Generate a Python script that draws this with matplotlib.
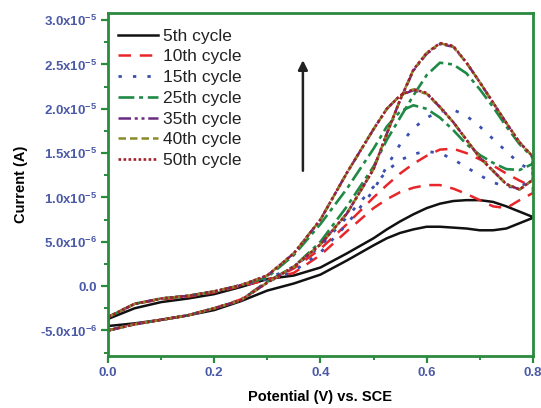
import matplotlib
matplotlib.use("Agg")
import matplotlib.pyplot as plt
from matplotlib.ticker import FixedLocator, FuncFormatter, MultipleLocator
import math

plt.rcParams['font.family'] = ['Liberation Sans', 'DejaVu Sans']
plt.rcParams['mathtext.fontset'] = 'custom'
plt.rcParams['mathtext.rm'] = 'Liberation Sans:bold'
plt.rcParams['mathtext.bf'] = 'Liberation Sans:bold'
plt.rcParams['mathtext.default'] = 'bf'

# Potential grid (V)
potential = [0, 0.05, 0.1, 0.15, 0.2, 0.25, 0.3, 0.35, 0.4, 0.45, 0.5, 0.525, 0.55,
             0.575, 0.6, 0.625, 0.65, 0.675, 0.7, 0.725, 0.75, 0.775, 0.8]

# Currents in units of 1e-5 A; branch "b" = higher-peak branch, branch "a" = other branch
c5_b = [-0.37, -0.25, -0.18, -0.14, -0.09, -0.01, 0.08, 0.12, 0.21, 0.37, 0.54, 0.64, 0.73,
        0.81, 0.88, 0.93, 0.96, 0.97, 0.97, 0.95, 0.90, 0.84, 0.78]
c5_a = [-0.45, -0.42, -0.38, -0.33, -0.27, -0.17, -0.05, 0.03, 0.13, 0.29, 0.46, 0.54, 0.60,
        0.64, 0.67, 0.67, 0.66, 0.65, 0.63, 0.63, 0.65, 0.71, 0.77]

c10_b = [-0.50, -0.43, -0.38, -0.33, -0.25, -0.15, 0.05, 0.20, 0.42, 0.70, 1.00, 1.14, 1.27,
         1.38, 1.47, 1.54, 1.55, 1.50, 1.43, 1.36, 1.27, 1.19, 1.12]
c10_a = [-0.35, -0.20, -0.15, -0.12, -0.07, 0.00, 0.07, 0.15, 0.35, 0.62, 0.88, 0.98, 1.06,
         1.11, 1.14, 1.14, 1.10, 1.04, 0.97, 0.90, 0.88, 0.97, 1.05]

c15_b = [-0.50, -0.43, -0.38, -0.33, -0.25, -0.16, 0.05, 0.17, 0.38, 0.70, 1.08, 1.35, 1.60,
         1.78, 1.90, 1.97, 1.99, 1.92, 1.80, 1.66, 1.52, 1.38, 1.30]
c15_a = [-0.35, -0.20, -0.14, -0.11, -0.06, 0.01, 0.08, 0.22, 0.45, 0.78, 1.12, 1.30, 1.42,
         1.49, 1.52, 1.50, 1.43, 1.34, 1.25, 1.17, 1.12, 1.12, 1.20]

c25_b = [-0.50, -0.43, -0.38, -0.33, -0.25, -0.16, 0.05, 0.22, 0.50, 0.90, 1.35, 1.65, 1.90,
         2.15, 2.38, 2.52, 2.50, 2.40, 2.22, 2.02, 1.80, 1.60, 1.45]
c25_a = [-0.35, -0.20, -0.14, -0.11, -0.06, 0.01, 0.10, 0.35, 0.70, 1.10, 1.55, 1.80, 1.97,
         2.04, 2.00, 1.90, 1.76, 1.60, 1.48, 1.39, 1.32, 1.31, 1.38]

c35_b = [-0.50, -0.43, -0.38, -0.33, -0.25, -0.16, 0.04, 0.22, 0.47, 0.82, 1.32, 1.72, 2.10,
         2.43, 2.62, 2.73, 2.70, 2.52, 2.30, 2.07, 1.84, 1.62, 1.46]
c35_a = [-0.35, -0.20, -0.14, -0.11, -0.06, 0.01, 0.12, 0.37, 0.75, 1.28, 1.77, 2.00, 2.15,
         2.21, 2.17, 2.02, 1.85, 1.65, 1.45, 1.30, 1.15, 1.09, 1.20]

c40_b = [-0.50, -0.43, -0.38, -0.33, -0.25, -0.16, 0.04, 0.22, 0.47, 0.82, 1.32, 1.72, 2.10,
         2.44, 2.63, 2.74, 2.70, 2.52, 2.30, 2.07, 1.84, 1.62, 1.46]
c40_a = [-0.35, -0.20, -0.14, -0.11, -0.06, 0.01, 0.12, 0.37, 0.75, 1.28, 1.77, 2.00, 2.15,
         2.22, 2.17, 2.02, 1.85, 1.65, 1.45, 1.30, 1.15, 1.09, 1.20]

c50_b = [-0.50, -0.43, -0.38, -0.33, -0.25, -0.16, 0.04, 0.22, 0.47, 0.82, 1.32, 1.72, 2.10,
         2.44, 2.63, 2.74, 2.71, 2.52, 2.30, 2.07, 1.84, 1.62, 1.46]
c50_a = [-0.35, -0.20, -0.14, -0.11, -0.06, 0.01, 0.12, 0.37, 0.75, 1.28, 1.77, 2.00, 2.15,
         2.22, 2.18, 2.02, 1.85, 1.65, 1.45, 1.30, 1.15, 1.09, 1.20]

labels = ['5th cycle', '10th cycle', '15th cycle', '25th cycle', '35th cycle', '40th cycle', '50th cycle']
branches_b = [c5_b, c10_b, c15_b, c25_b, c35_b, c40_b, c50_b]
branches_a = [c5_a, c10_a, c15_a, c25_a, c35_a, c40_a, c50_a]
colors = ['#111111', '#e8262a', '#3b4fb0', '#1f8a45', '#6a2a82', '#8a8a2a', '#a3202a']
styles = ['-', (0, (5, 3.5)), (0, (1.2, 4)), (0, (6, 1.8, 1.5, 1.8)),
          (0, (5, 1.5, 1.2, 1.5, 1.2, 1.5)), (0, (3, 1.6)), (0, (1, 0.9))]
widths = [1.8, 1.8, 2.0, 1.9, 1.8, 1.8, 1.9]

fig = plt.figure(figsize=(5.41, 4.08), dpi=100)
ax = fig.add_axes([0.1996, 0.127, 0.7854, 0.841])

for lab, yb, ya, c, ls, lw in zip(labels, branches_b, branches_a, colors, styles, widths):
    xs = list(potential) + list(potential[::-1]) + [potential[0]]
    ys = [v * 1e-5 for v in (list(yb) + list(ya[::-1]) + [yb[0]])]
    ax.plot(xs, ys, color=c, linestyle=ls, linewidth=lw, label=lab)

ax.set_xlim(0, 0.8)
ax.set_ylim(-7.9e-6, 3.08e-5)

spine_col = '#2a8a3e'
for s in ax.spines.values():
    s.set_color(spine_col)
    s.set_linewidth(2.0)

ax.xaxis.set_major_locator(FixedLocator([0.0, 0.2, 0.4, 0.6, 0.8]))
ax.xaxis.set_minor_locator(MultipleLocator(0.1))
yt = [-5e-6, 0, 5e-6, 1e-5, 1.5e-5, 2e-5, 2.5e-5, 3e-5]
ax.yaxis.set_major_locator(FixedLocator(yt))
ax.yaxis.set_minor_locator(MultipleLocator(2.5e-6))

def yfmt(v, pos):
    if abs(v) < 1e-12:
        return '0.0'
    e = int(math.floor(math.log10(abs(v)) + 1e-9))
    m = v / 10 ** e
    return '%.1fx10$^{%d}$' % (m, e)

ax.yaxis.set_major_formatter(FuncFormatter(yfmt))
ax.xaxis.set_major_formatter(FuncFormatter(lambda v, p: '%.1f' % v))

tick_col = '#4b5aa6'
ax.tick_params(which='major', direction='out', length=5, width=1.6, color=spine_col,
               labelsize=9.5, labelcolor=tick_col, pad=3)
ax.tick_params(which='minor', direction='out', length=3, width=1.4, color=spine_col)
for t in ax.get_xticklabels() + ax.get_yticklabels():
    t.set_fontweight('bold')

ax.set_xlabel('Potential (V) vs. SCE', fontsize=10.5, fontweight='bold', labelpad=8)
ax.set_ylabel('Current (A)', fontsize=10.5, fontweight='bold', labelpad=8)

ax.annotate('', xy=(0.367, 2.58e-5), xytext=(0.367, 1.27e-5),
            arrowprops=dict(arrowstyle='-|>', color='#222222', lw=1.8, mutation_scale=14))

leg = ax.legend(loc='upper left', frameon=False, fontsize=12.5, handlelength=2.3,
                handletextpad=0.25, labelspacing=0.32, borderaxespad=0.2,
                bbox_to_anchor=(0.0, 0.985))
for t in leg.get_texts():
    t.set_color('#222222')

fig.savefig('out.png', dpi=100)
